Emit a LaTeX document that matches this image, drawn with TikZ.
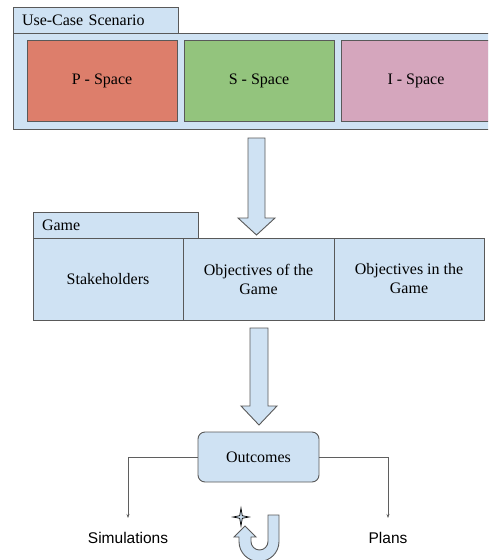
\documentclass[tikz,border=0pt]{standalone}
\usepackage{fontspec}
\setmainfont{Liberation Serif}
\newfontfamily\arialish{Liberation Sans}
\usetikzlibrary{arrows.meta}
\definecolor{lblue}{HTML}{CFE2F3}
\definecolor{lred}{HTML}{DD7E6B}
\definecolor{lgreen}{HTML}{93C47D}
\definecolor{lpink}{HTML}{D5A6BD}
\definecolor{bord}{HTML}{595959}
\definecolor{lineg}{HTML}{5F5F5F}
\begin{document}
\begin{tikzpicture}[x=1pt,y=-1pt,
  box/.style={draw=bord,line width=0.9pt,minimum width=#1,inner sep=2pt,align=center,font=\fontsize{16}{19}\selectfont},
  tabbox/.style={draw=bord,line width=0.9pt,fill=lblue,minimum width=165pt,minimum height=26pt,text width=147pt,align=left,inner sep=0pt,font=\fontsize{16}{19}\selectfont},
  fatarrow/.style={draw=bord,line width=0.9pt,fill=lblue,line join=miter},
  conn/.style={draw=lineg,line width=0.7pt,-{Stealth[length=4pt,width=3pt]}},
  lbl/.style={font=\arialish\fontsize{15.5}{18}\selectfont,inner sep=0pt}]
\useasboundingbox (0,0) rectangle (488,560);
\clip (0,0) rectangle (488,560);
% Use-case scenario
\node[tabbox] (uctab) at (95.5,20) {Use-Case Scenario};
\node[box=485pt,fill=lblue,minimum height=96pt] (ucbox) at (255.5,81) {};
\node[box=150pt,fill=lred,minimum height=81pt] (pspace) at (102,80.5) {P - Space};
\node[box=150pt,fill=lgreen,minimum height=81pt] (sspace) at (259,80.5) {S - Space};
\node[box=150pt,fill=lpink,minimum height=81pt] (ispace) at (416,80.5) {I - Space};
% arrow 1
\path[fatarrow] (248,138) -- (265,138) -- (265,218) -- (275,218) -- (256.5,235) -- (238,218) -- (248,218) -- cycle;
% Game
\node[tabbox] (gtab) at (115.5,225) {Game};
\node[box=150pt,fill=lblue,minimum height=82pt] (stake) at (108,279) {Stakeholders};
\node[box=151pt,fill=lblue,minimum height=82pt] (objof) at (258.5,279) {Objectives of the\\Game};
\node[box=150pt,fill=lblue,minimum height=82pt] (objin) at (409,279) {Objectives in the\\Game};
% arrow 2
\path[fatarrow] (250,328) -- (268,328) -- (268,406) -- (277,406) -- (259,425) -- (241,406) -- (250,406) -- cycle;
% Outcomes
\node[box=121pt,fill=lblue,minimum height=50pt,rounded corners=7pt] (out) at (258.5,457) {Outcomes};
\node[lbl] (sim) at (128,537.5) {Simulations};
\node[lbl] (plans) at (388,537.5) {Plans};
\coordinate (simtip) at (128,518);
\coordinate (plantip) at (388,518);
\draw[conn] (out.west) -| (simtip);
\draw[conn] (out.east) -| (plantip);
% U-turn icon
\path[fatarrow] (279,515) -- (279,541.5) arc[start angle=0,end angle=-180,radius=20pt]
  -- (239,537) -- (234,537) -- (245,526) -- (256,537) -- (251,537) -- (251,541.5)
  arc[start angle=180,end angle=360,radius=8.5pt] -- (268,515) -- cycle;
% sparkle
\path[draw=black,line width=0.7pt,fill=lblue] (241,508) -- (242.3,515.7) -- (249,517) -- (242.3,518.3) -- (241,526) -- (239.7,518.3) -- (233,517) -- (239.7,515.7) -- cycle;
\end{tikzpicture}
\end{document}
